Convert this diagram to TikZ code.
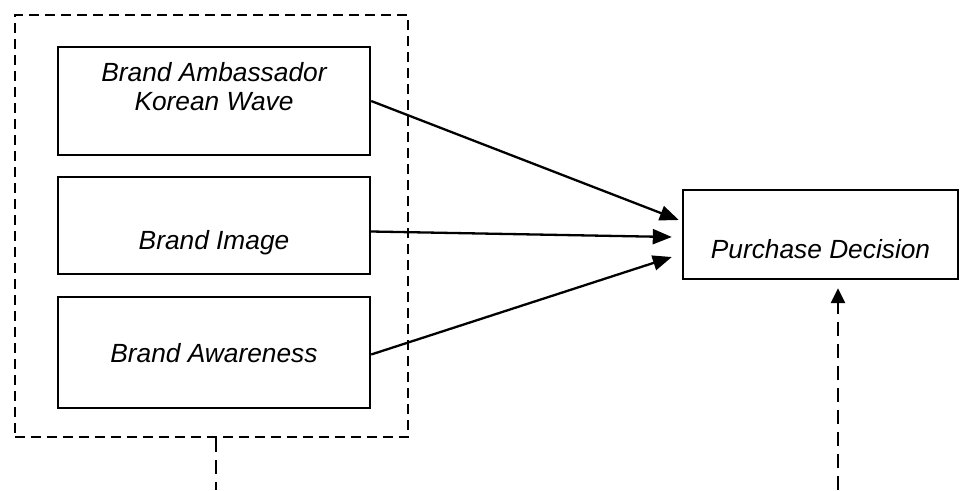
\documentclass[tikz,border=0pt]{standalone}
\usepackage{fontspec}
\setmainfont{Liberation Sans}
\usetikzlibrary{arrows.meta,calc}
\newcommand{\vstrut}{\rule[-5pt]{0pt}{29pt}}

\begin{document}
\begin{tikzpicture}[
  x=1pt, y=-1pt,
  font=\fontsize{26.3}{29}\selectfont\itshape,
  var/.style={draw, line width=2.4pt, minimum width=312pt, align=center, inner sep=0pt},
  grpbox/.style={draw, line width=1.8pt, dash pattern=on 10pt off 6pt,
    minimum width=393pt, minimum height=422pt, inner sep=0pt},
  link/.style={line width=2.3pt, -{Triangle[length=19pt,width=15pt]}},
  dlink/.style={line width=2.2pt, dash pattern=on 14pt off 8pt},
]
\useasboundingbox (0,0) rectangle (960,490);

% ---------- independent variables (left) ----------
\node[grpbox] (grp) at (211.5,226) {};
\node[var, minimum height=108pt] (amb) at (214,101)
  {\vstrut Brand Ambassador\\\vstrut Korean Wave\\\vstrut};
\node[var, minimum height=97pt] (img) at (214,225.5)
  {\vstrut\\\vstrut Brand Image};
\node[var, minimum height=111pt] (awr) at (214,352.5)
  {\vstrut Brand Awareness};

% ---------- dependent variable (right) ----------
\node[var, minimum width=275pt, minimum height=89pt] (pd) at (820.5,234.5)
  {\vstrut\\\vstrut Purchase Decision};

% partial effects
\draw[link] (amb.east) -- ($(pd.west)+(-3,-14.5)$);
\draw[link] ([yshift=-6pt]img.east) -- ($(pd.west)+(-10,2.5)$);
\draw[link] ([yshift=-2pt]awr.east) -- ($(pd.west)+(-10,22.5)$);

% simultaneous effect
\coordinate (grpout) at (216,490);
\coordinate (simin) at (838,490);
\draw[dlink] ([xshift=4.5pt]grp.south) -- (grpout);
\draw[dlink, line width=2.6pt, -{Triangle[length=15pt,width=14pt]}]
  (simin) -- ($(pd.south)+(17.5,8)$);

\end{tikzpicture}
\end{document}
